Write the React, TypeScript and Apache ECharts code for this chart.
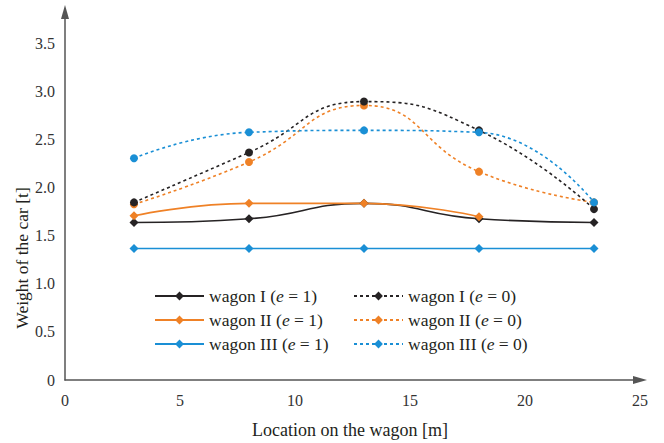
import React, { useEffect, useRef } from "react";
import * as echarts from "echarts";

const positions = [3, 8, 13, 18, 23];
const wagonI_e1 = [1.64, 1.68, 1.84, 1.68, 1.64];
const wagonII_e1 = [1.71, 1.84, 1.84, 1.7];
const wagonIII_e1 = [1.37, 1.37, 1.37, 1.37, 1.37];
const wagonI_e0 = [1.85, 2.37, 2.9, 2.6, 1.78];
const wagonII_e0 = [1.83, 2.27, 2.86, 2.17, 1.85];
const wagonIII_e0 = [2.31, 2.58, 2.6, 2.58, 1.85];
const xTickLabels = [0, 5, 10, 15, 20, 25];
const yTickLabels = [0, 0.5, 1, 1.5, 2, 2.5, 3, 3.5];

const BLACK = "#262324";
const ORANGE = "#ef8126";
const BLUE = "#1a8fd5";
const FONT = "Liberation Serif";

const pairs = (vals: number[], asCircle: boolean) =>
  vals.map((v, i) =>
    asCircle ? { value: [positions[i], v], symbol: "circle", symbolSize: 8 } : [positions[i], v]
  );

const makeSeries = (name: string, vals: number[], color: string, dotted: boolean) => ({
  name,
  type: "line",
  data: pairs(vals, dotted),
  smooth: true,
  symbol: "diamond",
  symbolSize: 9,
  showSymbol: true,
  color,
  itemStyle: { color },
  lineStyle: { color, width: 1.6, type: dotted ? [3, 3] : "solid" },
  z: dotted ? 3 : 2,
});

export default function App() {
  const ref = useRef<HTMLDivElement>(null);
  useEffect(() => {
    if (!ref.current) return;
    const chart = echarts.init(ref.current, undefined, { renderer: "svg" });
    const legendText = {
      fontFamily: FONT,
      fontSize: 17.5,
      color: "#231f20",
      rich: { i: { fontFamily: FONT, fontSize: 17.5, fontStyle: "italic", color: "#231f20" } },
    };
    const fmt = (n: string) => n.replace("(e", "({i|e}");
    const legendCommon = {
      orient: "vertical",
      top: 287,
      padding: 0,
      itemWidth: 49,
      itemHeight: 11,
      itemGap: 6,
      textStyle: legendText,
      formatter: fmt,
    };
    chart.setOption({
      animation: false,
      backgroundColor: "#ffffff",
      grid: { left: 65, right: 24, top: 12, bottom: 63 },
      xAxis: {
        type: "value",
        min: 0,
        max: 25,
        interval: 5,
        axisLine: {
          show: true,
          lineStyle: { color: "#555555", width: 1.5 },
          symbol: ["none", "triangle"],
          symbolSize: [8, 14],
        },
        axisTick: { show: false },
        splitLine: { show: false },
        axisLabel: {
          margin: 12,
          fontFamily: FONT,
          fontSize: 16,
          color: "#333333",
          formatter: (v: number) => (xTickLabels.includes(v) ? String(v) : ""),
        },
      },
      yAxis: {
        type: "value",
        min: 0,
        max: 3.833,
        interval: 0.5,
        axisLine: {
          show: true,
          lineStyle: { color: "#555555", width: 1.5 },
          symbol: ["none", "triangle"],
          symbolSize: [8, 14],
        },
        axisTick: { show: false },
        splitLine: { show: false },
        axisLabel: {
          margin: 10,
          fontFamily: FONT,
          fontSize: 16,
          color: "#333333",
          formatter: (v: number) =>
            yTickLabels.some((t) => Math.abs(t - v) < 1e-6) ? (v === 0 ? "0" : v.toFixed(1)) : "",
        },
      },
      legend: [
        {
          ...legendCommon,
          left: 154,
          data: ["wagon I (e = 1)", "wagon II (e = 1)", "wagon III (e = 1)"],
        },
        {
          ...legendCommon,
          left: 353,
          data: ["wagon I (e = 0)", "wagon II (e = 0)", "wagon III (e = 0)"],
        },
      ],
      graphic: [
        {
          type: "text",
          x: 22,
          y: 258,
          rotation: Math.PI / 2,
          style: {
            text: "Weight of the car [t]",
            fontFamily: FONT,
            fontSize: 17.5,
            fill: "#231f20",
            align: "center",
            verticalAlign: "middle",
          },
        },
        {
          type: "text",
          x: 350,
          y: 430,
          style: {
            text: "Location on the wagon [m]",
            fontFamily: FONT,
            fontSize: 18,
            fill: "#231f20",
            align: "center",
            verticalAlign: "middle",
          },
        },
      ],
      series: [
        makeSeries("wagon I (e = 1)", wagonI_e1, BLACK, false),
        makeSeries("wagon II (e = 1)", wagonII_e1, ORANGE, false),
        makeSeries("wagon III (e = 1)", wagonIII_e1, BLUE, false),
        makeSeries("wagon II (e = 0)", wagonII_e0, ORANGE, true),
        makeSeries("wagon I (e = 0)", wagonI_e0, BLACK, true),
        makeSeries("wagon III (e = 0)", wagonIII_e0, BLUE, true),
      ],
    });
    return () => chart.dispose();
  }, []);
  return (
    <div
      ref={ref}
      style={{ position: "fixed", left: 0, top: 0, width: 664, height: 443, background: "#fff" }}
    />
  );
}
